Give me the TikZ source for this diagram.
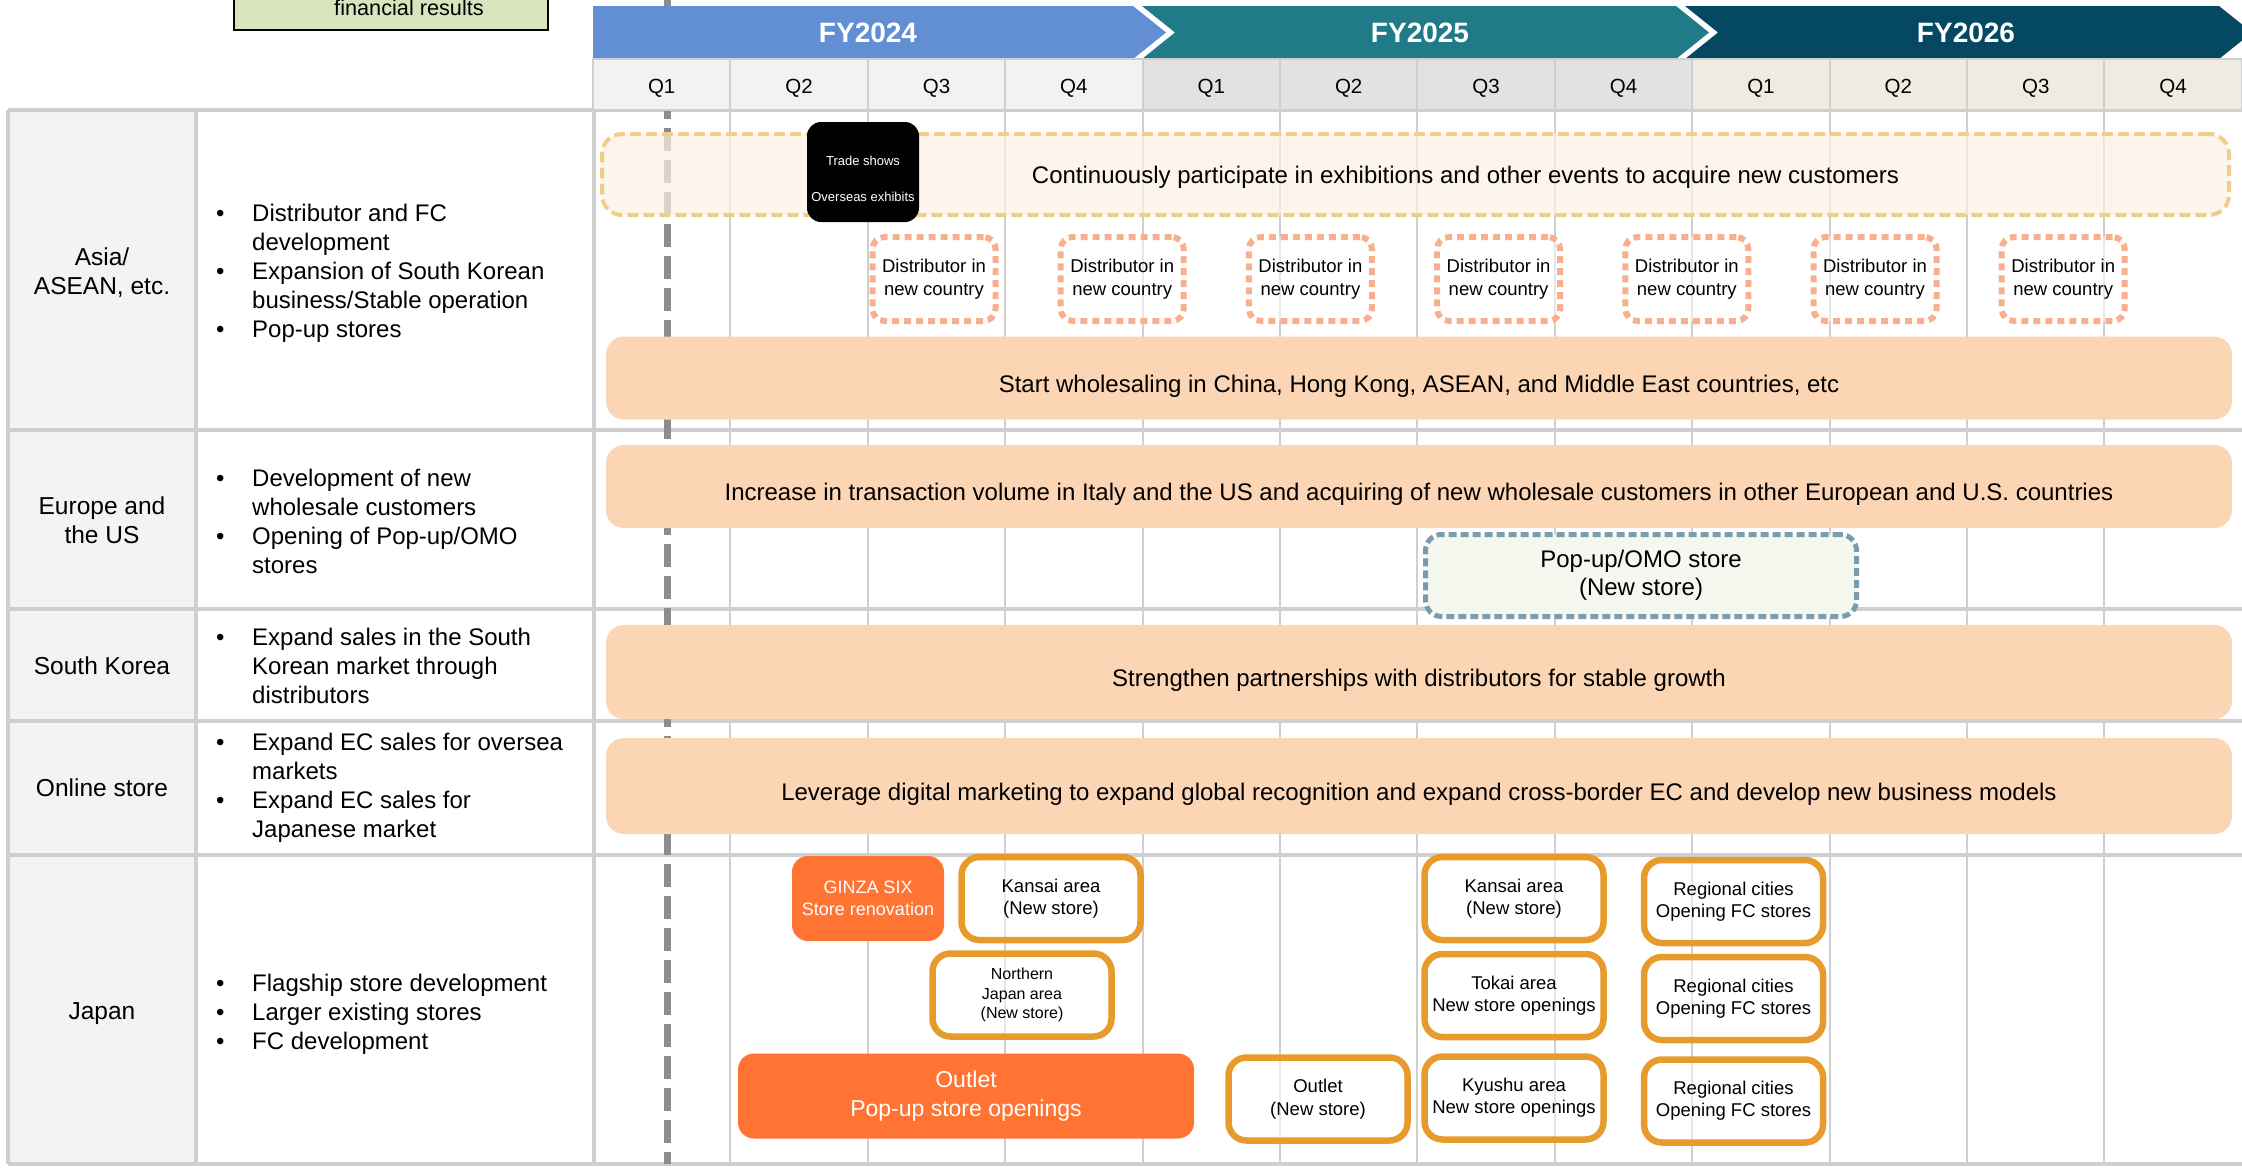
\documentclass[tikz,border=0pt]{standalone}
\usepackage{fontspec}
\setmainfont{Liberation Sans}
\usepackage{xcolor}
\usetikzlibrary{positioning}

\definecolor{fyblue}{HTML}{628FD4}
\definecolor{fyteal}{HTML}{207A87}
\definecolor{fynavy}{HTML}{044862}
\definecolor{q24}{HTML}{F2F2F2}
\definecolor{q25}{HTML}{E2E2E2}
\definecolor{q26}{HTML}{EEECE1}
\definecolor{peach}{HTML}{FCD5B4}
\definecolor{sand}{HTML}{FCF1E3}
\definecolor{sandline}{HTML}{F1CE88}
\definecolor{salmon}{HTML}{F8AF8E}
\definecolor{slate}{HTML}{7B9CAE}
\definecolor{mint}{HTML}{F4F8EE}
\definecolor{amber}{HTML}{E89B2D}
\definecolor{tangerine}{HTML}{FF7433}
\definecolor{gridgray}{HTML}{CFCFCF}
\definecolor{headgray}{HTML}{F3F3F3}
\definecolor{kpigreen}{HTML}{D8E4BC}

\newcommand\fsz[2]{\fontsize{#1}{#2}\selectfont}
\newcommand\bul{\makebox[36pt][l]{•}}
\newcommand\nob{\makebox[36pt][l]{}}

\tikzset{
  planbar/.style={rectangle, fill=peach, rounded corners=18pt,
                  minimum width=1626pt, inner sep=0pt, text height=30pt,
                  text depth=2pt, font=\fsz{24}{28}},
  eventbar/.style={rectangle, draw=sandline, fill=sand, fill opacity=0.7,
                   text opacity=1, line width=4pt, dash pattern=on 11pt off 5pt,
                   rounded corners=20pt, minimum width=1627pt, inner sep=0pt,
                   minimum height=81pt, text height=20pt, text depth=2pt,
                   font=\fsz{24}{28}},
  distbox/.style={rectangle, draw=salmon, fill=white, fill opacity=0.5,
                  text opacity=1, line width=6pt, dash pattern=on 7pt off 5pt,
                  rounded corners=12pt, minimum width=123pt, minimum height=84pt,
                  align=center, inner sep=0pt, font=\fsz{18.5}{23.5}},
  showbox/.style={rectangle, fill=black, text=white, rounded corners=14pt,
                  minimum width=112pt, minimum height=100pt, align=center,
                  font=\fsz{13}{36}},
  popbox/.style={rectangle, draw=slate, fill=mint, line width=5pt,
                 dash pattern=on 8pt off 4pt, rounded corners=16pt,
                 minimum width=431pt, minimum height=82pt, align=center,
                 font=\fsz{24}{28}},
  storebox/.style={rectangle, draw=amber, fill=white, fill opacity=0.5,
                   text opacity=1, line width=6.5pt, rounded corners=18pt,
                   minimum width=179pt, minimum height=83pt, align=center,
                   inner sep=0pt, font=\fsz{18.5}{22}},
  hotbox/.style={rectangle, fill=tangerine, text=white, rounded corners=16pt,
                 align=center, inner sep=0pt},
  rowhead/.style={align=center, font=\fsz{24.5}{29}},
  bulletlist/.style={anchor=west, align=left, inner sep=0pt, font=\fsz{24}{29}},
  qcell/.style={draw=gridgray, line width=2pt},
  qlabel/.style={anchor=base, inner sep=0pt, font=\fsz{20.5}{24}},
  fylabel/.style={text=white, font=\bfseries\fsz{28}{32}},
  tableline/.style={draw=gridgray, line width=4pt},
  gridline/.style={draw=gridgray, line width=2pt},
  nowline/.style={draw=black!45, line width=7pt, dash pattern=on 23pt off 9pt},
  kpibox/.style={rectangle, draw=black, fill=kpigreen, line width=2pt,
                 font=\fsz{21.7}{26}},
}

\begin{document}
\begin{tikzpicture}[x=1pt, y=-1pt]

  \path[use as bounding box] (0,0) rectangle (2242,1167);
  \clip (0,0) rectangle (2242,1167);

  \fill[headgray] (8,110) rectangle (196,1164);
  \foreach \k in {1,...,11}
    \draw[gridline] ({593+\k*137.4},110) -- ({593+\k*137.4},1164);
  \foreach \yy in {110,430,609,721,855,1164}
    \draw[tableline] (8,\yy) -- (2242,\yy);
  \foreach \xx in {8,196,594}
    \draw[tableline] (\xx,110) -- (\xx,1164);

  \draw[nowline] (667,0) -- (667,1164);

  \fill[fyblue] (593,6) -- (1133,6) -- (1166,32.5) -- (1133,59) -- (593,59) -- cycle;
  \fill[fyteal] (1142,6) -- (1676,6) -- (1709,32.5) -- (1676,59) -- (1142,59)
                -- (1175,32.5) -- cycle;
  \fill[fynavy] (1685,6) -- (2219,6) -- (2252,32.5) -- (2219,59) -- (1685,59)
                -- (1718,32.5) -- cycle;
  \node[fylabel] (fy24) at (868,33)  {FY2024};
  \node[fylabel] (fy25) at (1420,33) {FY2025};
  \node[fylabel] (fy26) at (1966,33) {FY2026};

  \foreach \yr/\qc in {0/q24,1/q25,2/q26}{
    \foreach \q in {1,...,4}{
      \pgfmathsetmacro\xa{593+(4*\yr+\q-1)*137.4}
      \pgfmathsetmacro\xq{593+(4*\yr+\q-0.5)*137.4}
      \filldraw[qcell, fill=\qc] (\xa,59) rectangle ++(137.4,51);
      \node[qlabel] (q\yr\q) at (\xq,93.5) {Q\q};
    }
  }

  \node[kpibox, text height=50pt, text depth=2pt, inner ysep=13pt,
        minimum width=314pt, anchor=base] (results) at (391,15)
        {\hspace*{36pt}financial results};

  \node[rowhead] (asia)   at (102,273)  {Asia/\\ASEAN, etc.};
  \node[rowhead] (europe) at (102,520)  {Europe and\\the US};
  \node[rowhead] (korea)  at (102,666)  {South Korea};
  \node[rowhead] (online) at (102,788)  {Online store};
  \node[rowhead] (japan)  at (102,1014) {Japan};

  \node[bulletlist] (asiaplan) at (216,273)
    {\bul Distributor and FC\\\nob development\\\bul Expansion of South Korean\\
     \nob business/Stable operation\\\bul Pop-up stores};
  \node[bulletlist] (europeplan) at (216,521)
    {\bul Development of new\\\nob wholesale customers\\\bul Opening of Pop-up/OMO\\
     \nob stores};
  \node[bulletlist] (koreaplan) at (216,666)
    {\bul Expand sales in the South\\\nob Korean market through\\\nob distributors};
  \node[bulletlist] (onlineplan) at (216,788)
    {\bul Expand EC sales for oversea\\\nob markets\\\bul Expand EC sales for\\
     \nob Japanese market};
  \node[bulletlist] (japanplan) at (216,1014)
    {\bul Flagship store development\\\bul Larger existing stores\\\bul FC development};

  \node[eventbar] (events) at (1415.5,174.5)
    {\hspace*{100pt}Continuously participate in exhibitions and other events to acquire new customers};
  \node[showbox] (tradeshow) at (863,172) {\rule{0pt}{24pt}Trade shows\\Overseas exhibits};
  \foreach \n in {0,...,6}{
    \pgfmathsetmacro\xd{934+188.2*\n}
    \node[distbox] (dist\n) at (\xd,279) {Distributor in\\new country};
  }
  \node[planbar, minimum height=83pt] (wholesale) at (1419,378)
    {Start wholesaling in China, Hong Kong, ASEAN, and Middle East countries, etc};

  \node[planbar, minimum height=83pt] (italyus) at (1419,486.5)
    {Increase in transaction volume in Italy and the US and acquiring of new wholesale customers in other European and U.S. countries};
  \node[popbox] (omo) at (1641,575.5) {Pop-up/OMO store\\(New store)};

  \node[planbar, minimum height=94pt] (partners) at (1419,672)
    {Strengthen partnerships with distributors for stable growth};

  \node[planbar, minimum height=96pt] (crossborder) at (1419,786)
    {Leverage digital marketing to expand global recognition and expand cross-border EC and develop new business models};

  \node[hotbox, minimum width=152pt, minimum height=85pt, font=\fsz{18}{22}]
    (ginza) at (868,898.5) {GINZA SIX\\Store renovation};
  \node[hotbox, minimum width=456pt, minimum height=85pt, font=\fsz{23}{29}]
    (outletpop) at (966,1096) {Outlet\\Pop-up store openings};
  \node[storebox] (kansaiA) at (1051,898.5) {Kansai area\\(New store)};
  \node[storebox, font=\fsz{16}{19.5}] (northern) at (1022,995)
    {Northern\\Japan area\\(New store)};
  \node[storebox, font=\fsz{18.5}{23}] (outletnew) at (1318,1099) {Outlet\\(New store)};
  \node[storebox] (kansaiB) at (1514,898.5) {Kansai area\\(New store)};
  \node[storebox, below=7.5pt of kansaiB] (tokai) {Tokai area\\New store openings};
  \node[storebox, below=13pt of tokai] (kyushu) {Kyushu area\\New store openings};
  \node[storebox, right=34pt of kansaiB, yshift=-3pt] (regionA)
    {Regional cities\\Opening FC stores};
  \node[storebox, below=7.5pt of regionA] (regionB) {Regional cities\\Opening FC stores};
  \node[storebox, below=13pt of regionB] (regionC) {Regional cities\\Opening FC stores};

\end{tikzpicture}
\end{document}
